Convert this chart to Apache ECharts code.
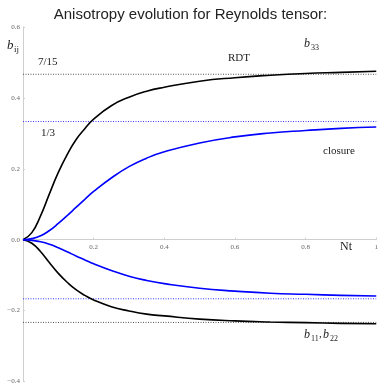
<!DOCTYPE html>
<html><head><meta charset="utf-8">
<script src="https://cdn.jsdelivr.net/npm/echarts@6/dist/echarts.min.js"></script>
<style>html,body{margin:0;padding:0;background:#fff}#c{width:381px;height:385px}</style>
</head><body><div id="c"></div>
<script>
const titleText = 'Anisotropy evolution for Reynolds tensor:';
const nt = [0, 0.025, 0.05, 0.075, 0.1, 0.125, 0.15, 0.175, 0.2, 0.25, 0.3, 0.35, 0.4, 0.5, 0.6, 0.7, 0.8, 0.9, 1.0];
const rdtB33 = [0, 0.02, 0.068, 0.13, 0.19, 0.24, 0.282, 0.313, 0.34, 0.378, 0.402, 0.419, 0.43, 0.447, 0.457, 0.464, 0.469, 0.472, 0.475];
const rdtB11 = [0, -0.01, -0.034, -0.065, -0.095, -0.12, -0.141, -0.157, -0.17, -0.189, -0.201, -0.21, -0.215, -0.224, -0.229, -0.232, -0.234, -0.236, -0.237];
const closureB33 = [0, 0.003, 0.011, 0.026, 0.046, 0.068, 0.091, 0.114, 0.136, 0.174, 0.206, 0.23, 0.248, 0.273, 0.29, 0.301, 0.308, 0.314, 0.318];
const closureB11 = [0, -0.002, -0.006, -0.013, -0.023, -0.034, -0.046, -0.057, -0.068, -0.087, -0.103, -0.115, -0.124, -0.137, -0.145, -0.151, -0.154, -0.157, -0.159];
const rdtLimits = [7/15, -7/30];
const closureLimits = [1/3, -1/6];
const xTicks = [0, 0.2, 0.4, 0.6, 0.8, 1];
const yTicks = [-0.4, -0.2, 0, 0.2, 0.4, 0.6];
const xMin = 0, xMax = 1, yMin = -0.4, yMax = 0.6;

const pairs = ys => nt.map((x, i) => [x, ys[i]]);
const chart = echarts.init(document.getElementById('c'));
const serif = '"Liberation Serif", "DejaVu Serif", serif';
const tickLbl = {fontFamily: serif, fontSize: 7, color: '#666'};
const gridTop = 27, gridBottom = 3, H = 385;
const plotH = H - gridTop - gridBottom;
const xAxisOffset = -plotH * (0 - yMin) / (yMax - yMin);

function refLine(v, color) {
  return {
    type: 'line', data: [[xMin, v], [xMax, v]], showSymbol: false, silent: true,
    lineStyle: {color: color, type: [1, 1.5], width: 1}, z: 2
  };
}
function curve(ys, color) {
  return {
    type: 'line', data: pairs(ys), showSymbol: false, smooth: 0.5,
    lineStyle: {color: color, width: 1.6}, itemStyle: {color: color}, z: 3
  };
}

chart.setOption({
  animation: false,
  title: {text: titleText, left: 'center', top: 2,
    textStyle: {fontFamily: '"Liberation Sans", Arial, sans-serif', fontWeight: 'normal', fontSize: 15, color: '#222'}},
  grid: {left: 23, right: 3, top: gridTop, bottom: gridBottom},
  xAxis: {type: 'value', min: xMin, max: xMax, interval: 0.2, offset: xAxisOffset,
    axisLine: {onZero: false, lineStyle: {color: '#cfcfcf'}},
    axisTick: {show: true, length: 2, inside: true, lineStyle: {color: '#cfcfcf'}},
    splitLine: {show: false},
    axisLabel: Object.assign({margin: 4, formatter: v => {
      const t = xTicks.find(k => Math.abs(k - v) < 1e-9);
      if (t === undefined || t === 0) return '';
      return t === 1 ? '1' : t.toFixed(1);
    }}, tickLbl)},
  yAxis: {type: 'value', min: yMin, max: yMax, interval: 0.2,
    axisLine: {show: true, lineStyle: {color: '#cfcfcf'}},
    axisTick: {show: true, length: 2, inside: true, lineStyle: {color: '#cfcfcf'}},
    splitLine: {show: false},
    axisLabel: Object.assign({margin: 3, formatter: v => {
      const t = yTicks.find(k => Math.abs(k - v) < 1e-9);
      return t === undefined ? '' : t.toFixed(1).replace('-', '\u2212');
    }}, tickLbl)},
  series: [
    ...rdtLimits.map(v => refLine(v, '#555')),
    ...closureLimits.map(v => refLine(v, '#3a3aff')),
    curve(rdtB33, '#000'),
    curve(rdtB11, '#000'),
    curve(closureB33, '#0000ff'),
    curve(closureB11, '#0000ff')
  ],
  graphic: [
    {type: 'text', left: 7, top: 39, style: {text: 'b', font: 'italic 13px ' + serif, fill: '#222'}},
    {type: 'text', left: 14, top: 45, style: {text: 'ij', font: '9px ' + serif, fill: '#222'}},
    {type: 'text', left: 38, top: 57, style: {text: '7/15', font: '11px ' + serif, fill: '#222'}},
    {type: 'text', left: 41, top: 128, style: {text: '1/3', font: '11px ' + serif, fill: '#222'}},
    {type: 'text', left: 228, top: 53, style: {text: 'RDT', font: '11px ' + serif, fill: '#222'}},
    {type: 'text', left: 304, top: 38, style: {text: 'b', font: 'italic 12px ' + serif, fill: '#222'}},
    {type: 'text', left: 311, top: 44, style: {text: '33', font: '8px ' + serif, fill: '#222'}},
    {type: 'text', left: 323, top: 146, style: {text: 'closure', font: '11px ' + serif, fill: '#222'}},
    {type: 'text', left: 340, top: 241, style: {text: 'Nt', font: '12px ' + serif, fill: '#222'}},
    {type: 'text', left: 304, top: 329, style: {text: 'b', font: 'italic 12px ' + serif, fill: '#222'}},
    {type: 'text', left: 311, top: 335, style: {text: '11', font: '8px ' + serif, fill: '#222'}},
    {type: 'text', left: 319, top: 329, style: {text: ',', font: '11px ' + serif, fill: '#222'}},
    {type: 'text', left: 323, top: 329, style: {text: 'b', font: 'italic 12px ' + serif, fill: '#222'}},
    {type: 'text', left: 330, top: 335, style: {text: '22', font: '8px ' + serif, fill: '#222'}}
  ]
});
</script></body></html>
